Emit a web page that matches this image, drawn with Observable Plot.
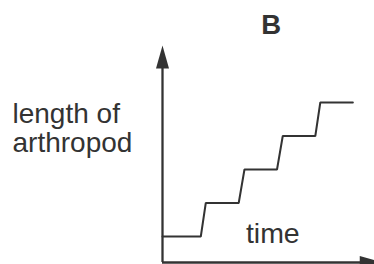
<!DOCTYPE html>
<html>
<head>
<meta charset="utf-8">
<script src="https://cdn.jsdelivr.net/npm/d3@7"></script>
<script src="https://cdn.jsdelivr.net/npm/@observablehq/plot@0.6"></script>
<style>
  html, body { margin: 0; padding: 0; background: #ffffff; }
  #chart svg { display: block; }
</style>
</head>
<body>
<div id="chart"></div>
<script>
// Step growth of an arthropod (molting): time vs length
const times   = [0, 1, 1.13, 1.99, 2.14, 2.99, 3.14, 3.99, 4.12, 4.97];
const lengths = [1, 1, 2,    2,    3,    3,    4,    4,    5,    5];

// Axis extents (in data units)
const axisBase = 0.224;   // length value where time axis sits
const timeMax = 5.75;     // tip of time arrow
const lengthMax = 6.7;    // tip of length arrow

const titleText = "B";
const yLabel = "length of\narthropod";
const xLabel = "time";

const ink = "#333333";
const font = "'Liberation Sans', Arial, Helvetica, sans-serif";

const points = times.map((t, i) => ({t, len: lengths[i]}));

// filled narrow arrow head, tip at the anchor point, pointing up
const arrowHead = {
  draw(ctx) {
    ctx.moveTo(0, 0);
    ctx.lineTo(6.5, 23);
    ctx.lineTo(-6.5, 23);
    ctx.closePath();
  }
};

const chart = Plot.plot({
  width: 374,
  height: 264,
  margin: 0,
  style: {background: "#ffffff", fontFamily: font, color: ink},
  x: {domain: [0, 5], range: [162, 353.5], axis: null},
  y: {domain: [1, 5], range: [236, 102], axis: null},
  marks: [
    // axes
    Plot.ruleY([axisBase], {x1: 0, x2: timeMax - 0.5, stroke: ink, strokeWidth: 2.3}),
    Plot.ruleX([0], {y1: axisBase, y2: lengthMax - 0.6, stroke: ink, strokeWidth: 2.3}),
    Plot.dot([{t: 0, len: lengthMax}], {x: "t", y: "len", symbol: arrowHead, fill: ink, stroke: "none"}),
    Plot.dot([{t: timeMax, len: axisBase}], {x: "t", y: "len", symbol: arrowHead, fill: ink, stroke: "none", rotate: 90}),
    // step growth line
    Plot.line(points, {x: "t", y: "len", stroke: ink, strokeWidth: 2, strokeLinejoin: "miter"}),
    // texts
    Plot.text([titleText], {frameAnchor: "top-left", dx: 270.7, dy: 33.5, text: d => d, textAnchor: "middle", lineAnchor: "bottom", fontSize: 27.5, fontWeight: "bold", fill: ink}),
    Plot.text([yLabel], {frameAnchor: "top-left", dx: 12, dy: 151.7, text: d => d, textAnchor: "start", lineAnchor: "bottom", fontSize: 28, lineHeight: 1.03, fill: ink}),
    Plot.text([xLabel], {frameAnchor: "top-left", dx: 272.3, dy: 242.7, text: d => d, textAnchor: "middle", lineAnchor: "bottom", fontSize: 28.5, fill: ink})
  ]
});

document.getElementById("chart").appendChild(chart);
</script>
</body>
</html>
